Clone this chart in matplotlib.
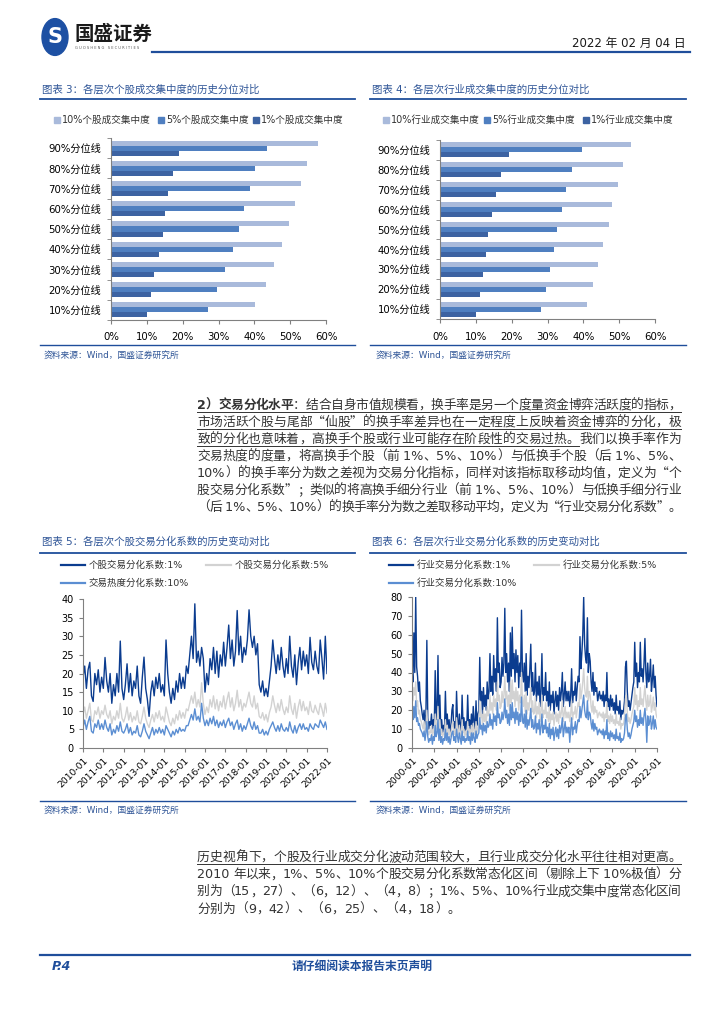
import numpy as np
import matplotlib
matplotlib.use("Agg")
import matplotlib.pyplot as plt
from matplotlib.lines import Line2D
from matplotlib.patches import Rectangle, Circle

W, H = 724, 1024
CJK = 'Noto Sans CJK SC'
MIX = ['DejaVu Sans', CJK]
BLUE = '#1F4E9B'
TBLUE = '#2F5597'
GRAY = '#808080'
TXT = '#333333'

# ---- bar charts: historical quantiles of concentration (%) ----
quant_labels = ['10%分位线', '20%分位线', '30%分位线', '40%分位线', '50%分位线',
                '60%分位线', '70%分位线', '80%分位线', '90%分位线']
stock_top10 = [40.1, 43.2, 45.4, 47.6, 49.8, 51.3, 53.0, 54.6, 57.9]
stock_top5 = [27.2, 29.7, 31.7, 34.0, 35.6, 37.2, 38.7, 40.1, 43.4]
stock_top1 = [10.0, 11.2, 12.1, 13.3, 14.5, 15.2, 16.0, 17.3, 18.9]
ind_top10 = [40.9, 42.6, 44.2, 45.6, 47.1, 48.1, 49.8, 51.2, 53.2]
ind_top5 = [28.1, 29.5, 30.6, 31.7, 32.7, 34.1, 35.3, 36.9, 39.6]
ind_top1 = [10.1, 11.2, 11.9, 12.7, 13.5, 14.6, 15.6, 17.0, 19.3]
stock_bar_names = ['10%个股成交集中度', '5%个股成交集中度', '1%个股成交集中度']
ind_bar_names = ['10%行业成交集中度', '5%行业成交集中度', '1%行业成交集中度']

# ---- stock turnover divergence, monthly 2010-01 .. 2022-01 ----
stock_div1 = [
    19, 22, 16, 21, 23, 14, 12.5, 20, 17, 21, 15, 19,
    16, 24.3, 18, 15, 20, 12, 17, 14, 20, 15, 28.7, 16,
    13, 17, 22.6, 15, 20, 14, 18, 16, 22, 14, 12, 19,
    24.4, 16, 13, 8.5, 15, 18, 14, 19, 16, 20, 15, 17,
    14, 29, 20, 15, 12, 16, 13, 18, 15, 20, 16, 19,
    16, 22, 20, 25, 30, 24, 38.7, 23, 26, 22, 27, 24,
    15, 20, 17, 24, 21, 27, 20, 26, 19, 25, 22, 28.4,
    22, 27, 33, 24, 29, 22, 26, 36.9, 25, 30, 23, 27,
    25, 29, 37.1, 30, 27, 30, 25, 28, 17, 15, 18, 14,
    16, 13.8, 18, 22, 29, 24, 20, 25, 21, 27, 22, 19,
    24, 20, 30, 22, 19, 25, 17, 23, 27, 21, 26, 22,
    25, 20, 29.7, 23, 21, 26, 22, 20, 29, 24, 18.5, 30,
    20]
stock_div5 = [
    9, 11, 8, 10, 12, 7.5, 7, 10, 9, 11, 8, 10,
    9, 11.5, 9, 8, 10, 6.5, 8.5, 7.5, 10, 8, 12, 8,
    7, 8.5, 11, 7.5, 9.5, 7, 8.5, 7.5, 10, 7, 6.5, 8.5,
    11, 8, 6.5, 5.5, 7.5, 9, 7, 9.5, 8, 10, 7.5, 8.5,
    7, 11, 9, 7, 6, 8, 6.5, 9, 7.5, 10, 8, 9.5,
    8, 10.5, 10, 12, 14, 12, 15, 11, 13, 11, 17.5, 12,
    9, 11, 9.5, 13, 11, 14, 10.5, 13, 10, 12.5, 11, 14,
    10.5, 13, 15, 11, 13.5, 10, 12, 15.5, 11, 13, 10, 12,
    11, 13, 15, 12, 11, 14, 10.5, 12, 8.5, 8, 9.5, 7.5,
    9, 7, 9.5, 11, 14, 11.5, 9.5, 12, 10, 13, 10.5, 9,
    11, 9.5, 14, 10.5, 9, 12, 8, 11, 13, 10, 12.5, 10,
    11, 9, 12.5, 10, 9.5, 11.5, 10, 9, 12, 10.5, 8.5, 12,
    9.5]
stock_div10 = [
    5.5, 7.5, 5, 7, 8.5, 4.5, 4, 6.5, 5.5, 7.5, 5, 6.5,
    5, 7.5, 5.5, 4.5, 6.5, 3.5, 5, 4, 6, 4.5, 7, 4.5,
    4, 5, 6.5, 4, 5.5, 3.5, 4.5, 4, 6, 3.5, 3, 4.5,
    6.5, 4.5, 3.5, 2.5, 4, 5.5, 3.5, 5, 4, 5.5, 4, 5,
    3.5, 6, 5, 4, 3, 4.5, 3.5, 5, 4, 5.5, 4.5, 5,
    4.5, 6, 6, 7.5, 9, 7.5, 10.5, 7.5, 8.5, 7, 12, 8,
    6, 7.5, 6, 8, 6.5, 8.5, 6, 7.5, 5.5, 7, 6, 7.5,
    5.5, 7, 8, 6, 7, 5, 6.5, 7.5, 5, 6.5, 4.5, 6,
    5, 6.5, 8, 6, 5, 7, 5, 6, 4, 4, 5, 3.5,
    4.5, 3.5, 5, 6, 7, 5.5, 4.5, 6, 4.5, 6.5, 5, 4.5,
    5.5, 4.5, 7, 5, 4, 6, 4, 5.5, 6.5, 5, 6.5, 5,
    5.5, 4.5, 6.5, 5.5, 5, 6.5, 6, 5.5, 7.5, 6.5, 5.5, 7,
    5]

# ---- industry turnover divergence, monthly 2000-01 .. 2022-01 ----
ind_div1 = [
    42, 35, 61, 40, 80, 43, 38, 30, 35, 25, 22, 18,
    15, 20, 12, 18, 57, 16, 10, 14, 12, 18, 8, 15,
    12, 41, 15, 20, 49, 12, 28, 10, 15, 8, 12, 10,
    30, 12, 18, 10, 15, 8, 12, 20, 23, 10, 14, 8,
    30, 15, 10, 18, 12, 8, 28, 12, 16, 8, 14, 10,
    28, 12, 15, 8, 18, 10, 22, 14, 10, 25, 12, 18,
    20, 48, 25, 30, 18, 32, 22, 28, 20, 35, 26, 30,
    50, 30, 38, 28, 49, 35, 42, 30, 69, 40, 45, 32,
    35, 48, 38, 45, 74, 40, 50, 35, 45, 30, 61, 38,
    64, 42, 50, 35, 52, 40, 49, 32, 45, 38, 73, 40,
    35, 45, 30, 50, 28, 38, 32, 42, 55, 30, 40, 28,
    30, 45, 25, 35, 28, 38, 22, 30, 50, 25, 32, 28,
    40, 25, 30, 22, 35, 20, 28, 24, 30, 18, 25, 30,
    22, 28, 20, 32, 25, 30, 40, 22, 28, 35, 25, 30,
    25, 30, 22, 28, 42, 24, 30, 28, 35, 25, 32, 38,
    35, 59, 42, 50, 60, 80, 55, 48, 45, 69, 40, 50,
    46, 35, 30, 40, 28, 35, 30, 32, 25, 28, 30, 26,
    28, 25, 30, 22, 28, 25, 40, 22, 26, 20, 28, 22,
    26, 20, 24, 18, 28, 20, 22, 18, 25, 15, 20, 18,
    20, 25, 43, 46, 30, 22, 25, 20, 24, 28, 32, 35,
    56, 38, 45, 32, 40, 35, 56, 38, 42, 35, 45, 58,
    40, 32, 45, 35, 38, 47, 30, 36, 44, 32, 38, 28,
    22]
ind_div5 = [
    30, 25, 32, 28, 35, 22, 25, 18, 20, 15, 14, 12,
    10, 14, 8, 12, 20, 10, 7, 9, 8, 12, 6, 10,
    8, 18, 10, 12, 22, 8, 15, 7, 10, 6, 8, 7,
    15, 8, 12, 7, 10, 6, 8, 12, 14, 7, 10, 6,
    16, 10, 7, 12, 8, 6, 15, 8, 10, 6, 9, 7,
    14, 8, 10, 6, 12, 7, 13, 9, 7, 14, 8, 11,
    13, 25, 16, 18, 12, 20, 14, 18, 13, 22, 17, 19,
    28, 20, 24, 18, 28, 22, 26, 20, 35, 25, 28, 21,
    22, 30, 24, 28, 38, 26, 30, 22, 28, 20, 35, 24,
    36, 26, 30, 22, 32, 25, 30, 20, 28, 24, 40, 25,
    22, 28, 19, 30, 18, 24, 20, 26, 32, 19, 25, 18,
    19, 27, 16, 22, 18, 24, 14, 19, 28, 16, 20, 18,
    24, 16, 19, 14, 22, 13, 18, 15, 19, 12, 16, 19,
    14, 18, 13, 20, 16, 19, 25, 14, 18, 22, 16, 19,
    16, 19, 14, 18, 25, 15, 19, 18, 22, 16, 20, 24,
    22, 34, 26, 30, 35, 42, 32, 28, 27, 38, 25, 30,
    28, 22, 19, 25, 18, 22, 19, 20, 16, 18, 19, 17,
    18, 16, 19, 14, 18, 16, 24, 14, 17, 13, 18, 14,
    17, 13, 15, 12, 18, 13, 14, 12, 16, 10, 13, 12,
    13, 16, 26, 28, 19, 14, 16, 13, 15, 18, 20, 22,
    32, 23, 28, 20, 25, 22, 32, 23, 26, 22, 28, 33,
    25, 20, 28, 22, 24, 28, 19, 22, 27, 20, 24, 18,
    16]
ind_div10 = [
    18, 15, 22, 16, 25, 14, 16, 12, 13, 10, 9, 8,
    6, 9, 4, 8, 14, 6, 3, 5, 4, 7, 2, 6,
    4, 12, 6, 8, 15, 4, 10, 3, 6, 2, 5, 4,
    10, 4, 8, 3, 6, 2, 5, 8, 9, 4, 6, 3,
    10, 6, 3, 8, 5, 2, 9, 4, 6, 3, 5, 4,
    9, 4, 6, 2, 8, 4, 8, 5, 3, 9, 5, 7,
    8, 16, 10, 12, 7, 13, 9, 12, 8, 14, 11, 12,
    18, 12, 15, 10, 18, 14, 17, 12, 24, 16, 18, 13,
    14, 19, 15, 18, 26, 16, 20, 13, 18, 12, 23, 15,
    24, 16, 19, 13, 21, 15, 19, 12, 18, 14, 27, 15,
    13, 18, 11, 20, 10, 15, 12, 16, 21, 11, 15, 10,
    11, 17, 8, 13, 10, 15, 7, 11, 18, 8, 12, 10,
    15, 8, 11, 6, 13, 5, 10, 7, 11, 4, 8, 11,
    6, 10, 5, 12, 8, 11, 16, 6, 10, 14, 8, 11,
    8, 11, 3, 10, 16, 7, 11, 10, 14, 8, 12, 15,
    14, 22, 16, 20, 24, 28, 20, 17, 16, 25, 15, 19,
    18, 13, 10, 15, 9, 13, 10, 11, 7, 9, 10, 8,
    9, 7, 10, 5, 9, 7, 15, 5, 8, 4, 9, 6,
    8, 5, 7, 4, 10, 5, 6, 4, 8, 3, 5, 4,
    5, 8, 16, 18, 10, 6, 8, 5, 7, 10, 12, 14,
    20, 14, 17, 11, 15, 12, 20, 13, 16, 12, 17, 21,
    15, 3, 17, 12, 14, 17, 10, 13, 17, 10, 15, 11,
    10]
stock_line_names = ['个股交易分化系数:1%', '个股交易分化系数:5%', '交易热度分化系数:10%']
ind_line_names = ['行业交易分化系数:1%', '行业交易分化系数:5%', '行业交易分化系数:10%']

para1 = [
    "2）交易分化水平：结合自身市值规模看，换手率是另一个度量资金博弈活跃度的指标，",
    "市场活跃个股与尾部“仙股”的换手率差异也在一定程度上反映着资金博弈的分化，极",
    "致的分化也意味着，高换手个股或行业可能存在阶段性的交易过热。我们以换手率作为",
    "交易热度的度量，将高换手个股（前 1%、5%、10%）与低换手个股（后 1%、5%、",
    "10%）的换手率分为数之差视为交易分化指标，同样对该指标取移动均值，定义为“个",
    "股交易分化系数”；类似的将高换手细分行业（前 1%、5%、10%）与低换手细分行业",
    "（后 1%、5%、10%）的换手率分为数之差取移动平均，定义为“行业交易分化系数”。",
]
para2 = [
    "历史视角下，个股及行业成交分化波动范围较大，且行业成交分化水平往往相对更高。",
    "2010 年以来，1%、5%、10%个股交易分化系数常态化区间（剔除上下 10%极值）分",
    "别为（15，27）、（6，12）、（4，8）；1%、5%、10%行业成交集中度常态化区间",
    "分别为（9，42）、（6，25）、（4，18）。",
]

BAR_COLORS = ['#A9BADB', '#4F7FC0', '#3D63A2']
LINE_COLORS = ['#0B3C8F', '#D2D2D2', '#5B8ED2']

fig = plt.figure(figsize=(W / 100, H / 100), dpi=100)


def fx(x):
    return x / W


def fy(y):
    return 1 - y / H


def hline(x0, x1, y, color=BLUE, lw=1.5):
    fig.add_artist(Line2D([fx(x0), fx(x1)], [fy(y), fy(y)], transform=fig.transFigure,
                          color=color, lw=lw))


def ftext(x, y, s, **kw):
    kw.setdefault('va', 'center')
    kw.setdefault('family', MIX)
    return fig.text(fx(x), fy(y), s, **kw)


def rect_px(left, top, right, bottom):
    return [fx(left), fy(bottom), (right - left) / W, (bottom - top) / H]


def style_axes(ax):
    for s in ['top', 'right']:
        ax.spines[s].set_visible(False)
    for s in ['left', 'bottom']:
        ax.spines[s].set_color(GRAY)
        ax.spines[s].set_linewidth(0.8)
    ax.tick_params(colors=GRAY, labelcolor='black', width=0.8, length=3)


# ---------------- header ----------------
fig.add_artist(Circle((fx(55), fy(37)), 13 / W, transform=fig.transFigure, color='#1D50A3'))
ftext(55, 37, 'S', ha='center', fontsize=15, weight='bold', color='white', family='DejaVu Sans')
ftext(74, 34, '国盛证券', fontsize=14, weight='bold', color='#1A1A1A', family=CJK)
ftext(75, 48, 'G U O S H E N G   S E C U R I T I E S', fontsize=2.6, color='#555555',
      family='DejaVu Sans')
ftext(686, 43, '2022 年 02 月 04 日', ha='right', fontsize=8.5, color='#1A1A1A')
hline(152, 690, 52, lw=1.6)


# ---------------- bar charts ----------------
def bar_panel(left, top, right, bottom, title, tl, tr, v10, v5, v1, names, legend_x, src_x):
    ax = fig.add_axes(rect_px(left, top, right, bottom))
    y = np.arange(len(quant_labels))
    h = 0.25
    ax.barh(y + h, v10, h, color=BAR_COLORS[0])
    ax.barh(y, v5, h, color=BAR_COLORS[1])
    ax.barh(y - h, v1, h, color=BAR_COLORS[2])
    ax.set_xlim(0, 60)
    ax.set_ylim(-0.5, 8.5)
    ax.set_xticks(range(0, 61, 10))
    ax.set_xticklabels([f'{v}%' for v in range(0, 61, 10)], family='DejaVu Sans', fontsize=7.3)
    ax.set_yticks(y)
    ax.set_yticklabels(quant_labels, family=MIX, fontsize=7.3)
    ax.set_yticks(np.arange(-0.5, 9, 1), minor=True)
    style_axes(ax)
    ax.tick_params(axis='y', which='major', length=0, pad=7)
    ax.tick_params(axis='y', which='minor', length=3, color=GRAY)
    ax.tick_params(axis='x', pad=6)
    # title + rule
    ftext(tl + 2, 89, title, fontsize=7.5, color=TBLUE)
    hline(tl, tr, 99, color=BLUE, lw=1.3)
    # legend
    for k in range(3):
        mx = legend_x[k]
        fig.add_artist(Rectangle((fx(mx - 3), fy(123)), 6 / W, 6 / H,
                                 transform=fig.transFigure, color=BAR_COLORS[k]))
        ftext(mx + 5, 120, names[k], fontsize=6.9, color='#333333')
    # source
    hline(tl, tr, 345, color=BLUE, lw=1.0)
    ftext(src_x, 355, '资料来源：Wind，国盛证券研究所', fontsize=6.3, color=TBLUE)


bar_panel(111, 138, 326, 320, '图表 3：各层次个股成交集中度的历史分位对比', 40, 355,
          stock_top10, stock_top5, stock_top1, stock_bar_names, [57, 161, 256], 44)
bar_panel(440, 140, 655, 319, '图表 4：各层次行业成交集中度的历史分位对比', 370, 686,
          ind_top10, ind_top5, ind_top1, ind_bar_names, [386, 487, 586], 376)


# ---------------- paragraph text ----------------
renderer = fig.canvas.get_renderer()


def tokenize(s):
    out = []
    for ch in s:
        if ord(ch) < 128 and out and ord(out[-1][-1]) < 128:
            out[-1] += ch
        else:
            out.append(ch)
    return out


def body_line(s, y, x0=197, x1=681, justify=True, bold_n=0, underline_n=0, fs=9.2):
    toks = tokenize(s)
    objs = []
    for i, t in enumerate(toks):
        fam = 'DejaVu Sans' if ord(t[-1]) < 128 else CJK
        o = fig.text(0, fy(y + 4), t, fontsize=fs, family=fam, color=TXT, va='baseline',
                     weight='bold' if i < bold_n else 'normal')
        objs.append(o)
    widths = [o.get_window_extent(renderer).width for o in objs]
    gap = (x1 - x0 - sum(widths)) / (len(objs) - 1) if justify else 0
    x = x0
    ends = []
    for o, w in zip(objs, widths):
        o.set_x(fx(x))
        x += w
        ends.append(x)
        x += gap
    if underline_n:
        hline(x0, ends[underline_n - 1], y + 7, color=TXT, lw=0.7)


for i, line in enumerate(para1):
    body_line(line, 405 + 17 * i,
              bold_n=8 if i == 0 else 0,
              underline_n=(len(tokenize(line)) if i < 2 else (30 if i == 2 else 0)))

for i, line in enumerate(para2):
    body_line(line, 857 + 17.2 * i, justify=(i < 3),
              underline_n=len(tokenize(line)) if i == 0 else 0)


# ---------------- line charts ----------------
def line_panel(left, top, right, bottom, start, s1, s5, s10, ymax, ystep, xstep,
               title, tl, tr, names, seg1, seg2, src_x):
    ax = fig.add_axes(rect_px(left, top, right, bottom))
    x = start + np.arange(len(s1)) / 12
    ax.plot(x, s1, color=LINE_COLORS[0], lw=1.0)
    ax.plot(x, s5, color=LINE_COLORS[1], lw=1.0)
    ax.plot(x, s10, color=LINE_COLORS[2], lw=1.0)
    ax.set_xlim(start, 2022)
    ax.set_ylim(0, ymax)
    ax.set_yticks(np.arange(0, ymax + 1, ystep))
    ticks = np.arange(start, 2023, xstep)
    ax.set_xticks(ticks)
    ax.set_xticklabels([f'{t}-01' for t in ticks], rotation=45, ha='right',
                       rotation_mode='anchor', family='DejaVu Sans', fontsize=6.6)
    for lab in ax.get_yticklabels():
        lab.set_family('DejaVu Sans')
        lab.set_fontsize(7)
    style_axes(ax)
    ax.tick_params(axis='x', pad=3)
    ftext(tl + 2, 541, title, fontsize=7.5, color=TBLUE)
    hline(tl, tr, 553, color=BLUE, lw=1.3)
    pos = [(seg1, 565), (seg2, 565), (seg1, 583)]
    for k in range(3):
        (a, b), yy = pos[k]
        hline(a, b, yy, color=LINE_COLORS[k], lw=1.6)
        ftext(b + 4, yy, names[k], fontsize=6.8, color='#333333')
    hline(tl, tr, 801, color=BLUE, lw=1.0)
    ftext(src_x, 810, '资料来源：Wind，国盛证券研究所', fontsize=6.3, color=TBLUE)


line_panel(83, 599, 327, 748, 2010, stock_div1, stock_div5, stock_div10, 40, 5, 1,
           '图表 5：各层次个股交易分化系数的历史变动对比', 40, 355, stock_line_names,
           (61, 85), (206, 231), 44)
line_panel(412, 597, 657, 748, 2000, ind_div1, ind_div5, ind_div10, 80, 10, 2,
           '图表 6：各层次行业交易分化系数的历史变动对比', 370, 686, ind_line_names,
           (389, 413), (534, 559), 376)

# ---------------- footer ----------------
hline(40, 690, 955, lw=1.6)
ftext(52, 966, 'P.4', fontsize=9, weight='bold', style='italic', color=BLUE, family='DejaVu Sans')
ftext(362, 966, '请仔细阅读本报告末页声明', ha='center', fontsize=8.5, weight='bold', color=BLUE,
      family=CJK)

fig.savefig('out.png', dpi=100)
